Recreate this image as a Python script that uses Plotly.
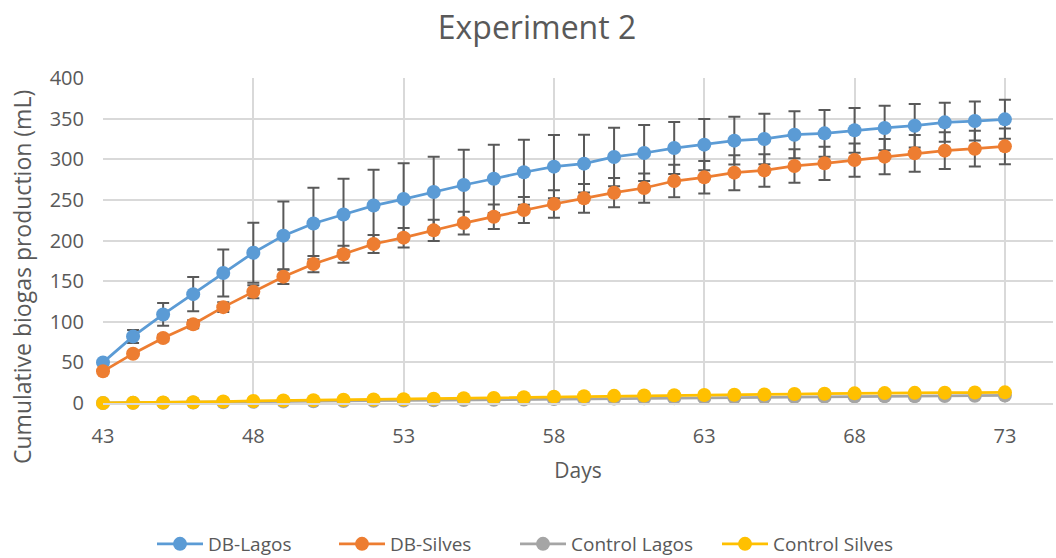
import plotly.graph_objects as go

# Sampling days
days = list(range(43, 74))

# Cumulative biogas production (mL) per reactor group
db_lagos = [50, 82, 109, 134, 160, 185, 206, 221, 232, 243, 251,
            259.7, 268.3, 276, 284, 290.9, 294.6, 302.8, 307.7, 313.8, 318,
            322.9, 325, 330.2, 331.9, 335.6, 338.5, 341.3, 345.4, 347, 349.1]
db_lagos_sd = [3, 8, 14, 21, 29, 37, 42, 44, 44, 44, 44,
               43.5, 43.5, 42, 40, 39, 35.6, 36, 34.5, 32, 31.5,
               29.5, 31, 29, 28.7, 27.5, 27.4, 26.7, 24, 24, 24]

db_silves = [39, 60.7, 80, 97, 118, 137, 155.5, 171, 183, 195.7, 203.5,
             212.5, 221.5, 229.3, 237.5, 244.9, 251.9, 258.8, 264.6, 273.2, 277.7,
             283.5, 286.3, 291.7, 295, 299, 303.2, 307.3, 310.6, 313, 315.9]
db_silves_sd = [2, 3, 4, 5, 6, 8, 9, 10, 10.5, 11, 12,
                13, 14, 15, 16, 17, 17.6, 18, 18, 20, 20,
                21.5, 20, 20.7, 20.5, 20.5, 21.8, 22.6, 22.6, 22, 22]

control_lagos = [0, 0.2, 0.4, 0.6, 1, 1.4, 1.8, 2.2, 2.5, 2.8, 3.1,
                 3.4, 3.7, 4.0, 4.4, 4.8, 5.1, 5.4, 5.7, 6, 6.3,
                 6.6, 6.9, 7.2, 7.5, 7.8, 8.1, 8.4, 8.7, 9, 9.3]

control_silves = [0, 0.3, 0.6, 1, 1.8, 2.5, 3, 3.5, 4, 4.3, 4.6,
                  5.2, 5.8, 6.3, 7, 7.8, 8.3, 8.8, 9.2, 9.5, 9.8,
                  10.2, 10.6, 11, 11.4, 11.9, 12.2, 12.5, 12.7, 12.9, 13.1]

x_ticks = [43, 48, 53, 58, 63, 68, 73]
y_ticks = [0, 50, 100, 150, 200, 250, 300, 350, 400]

FONT = "Open Sans"
TEXT = "#595959"
GRID = "#D9D9D9"
ERR = "#595959"
W, H = 1056, 558

# Each series gets its own legend box so the entries sit where intended
legend_left = [152, 334, 515, 717]


def series(name, y, color, legend, sd=None):
    kw = dict(
        x=days, y=y, name=name, mode="lines+markers",
        line=dict(color=color, width=2.75),
        marker=dict(color=color, size=14, line=dict(width=0)),
        cliponaxis=False, legend=legend,
    )
    if sd is not None:
        kw["error_y"] = dict(type="data", array=sd, visible=True,
                             color=ERR, thickness=2, width=6)
    return go.Scatter(**kw)


fig = go.Figure()
fig.add_trace(series("DB-Lagos", db_lagos, "#5B9BD5", "legend", db_lagos_sd))
fig.add_trace(series("DB-Silves", db_silves, "#ED7D31", "legend2", db_silves_sd))
fig.add_trace(series("Control Lagos", control_lagos, "#A5A5A5", "legend3"))
fig.add_trace(series("Control Silves", control_silves, "#FFC000", "legend4"))


def legend_box(left):
    return dict(orientation="h", xref="container", yref="container",
                x=left / W, xanchor="left", y=1 - 544 / H, yanchor="middle",
                font=dict(size=19, color=TEXT, family=FONT),
                itemwidth=46, bgcolor="rgba(0,0,0,0)", borderwidth=0)


fig.update_layout(
    width=W, height=H,
    margin=dict(l=103, r=3, t=78, b=155, autoexpand=False),
    paper_bgcolor="white", plot_bgcolor="white",
    font=dict(family=FONT, color=TEXT, size=19),
    title=dict(text="Experiment 2", font=dict(size=32, color=TEXT, family=FONT),
               x=537 / W, xref="container", xanchor="center",
               y=1 - 28 / H, yref="container", yanchor="middle"),
    showlegend=True,
    legend=legend_box(legend_left[0]),
    legend2=legend_box(legend_left[1]),
    legend3=legend_box(legend_left[2]),
    legend4=legend_box(legend_left[3]),
    annotations=[dict(
        text="Cumulative biogas production (mL)", textangle=-90,
        xref="paper", yref="paper", x=(22 - 103) / (W - 106), y=(H - 277 - 155) / 325,
        xanchor="center", yanchor="middle", showarrow=False,
        font=dict(size=23, color=TEXT, family=FONT),
    )],
)

fig.update_xaxes(
    range=[43, 74.6], tickvals=x_ticks, ticktext=[str(v) for v in x_ticks],
    showgrid=True, gridcolor=GRID, gridwidth=1.5,
    showline=True, linecolor=GRID, linewidth=1.5,
    zeroline=False, ticks="", ticklabelstandoff=14,
    tickfont=dict(size=20, color=TEXT),
    title=dict(text="Days", font=dict(size=21, color=TEXT), standoff=16),
)
fig.update_yaxes(
    range=[0, 400], tickvals=y_ticks,
    showgrid=True, gridcolor=GRID, gridwidth=1.5,
    showline=False, zeroline=False, ticks="", ticklabelstandoff=18,
    tickfont=dict(size=20, color=TEXT),
)

fig.write_html("out.html")
